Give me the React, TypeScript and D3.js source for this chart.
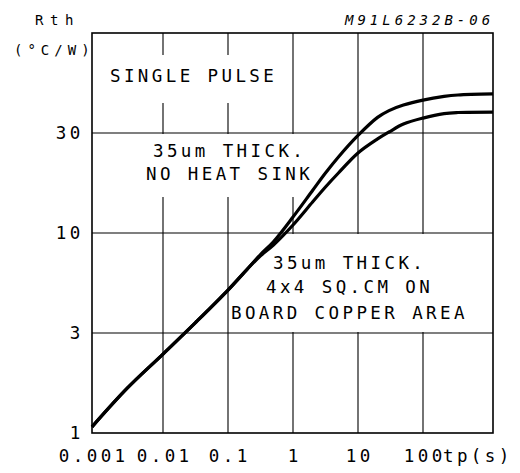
import React from "react";
import * as d3 from "d3";

const tp = [0.001, 0.00316, 0.01, 0.0316, 0.1, 0.2, 0.316, 0.5, 1, 2, 3.16, 5, 10, 20, 30, 50, 100, 200, 316, 1000];
const rthNoHeatSink = [1.07, 1.64, 2.38, 3.4, 5.03, 6.5, 7.72, 9.0, 11.92, 15.95, 19.33, 23.05, 29.2, 36.2, 39.3, 42.0, 44.6, 46.6, 47.4, 48.0];
const rthCopper = [1.07, 1.64, 2.38, 3.4, 5.03, 6.5, 7.6, 8.65, 10.92, 14.06, 16.58, 19.33, 24.08, 28.1, 30.36, 33.4, 35.9, 37.9, 38.4, 38.6];

const xTicks = [0.001, 0.01, 0.1, 1, 10, 100];
const xTickLabels = ["0.001", "0.01", "0.1", "1", "10", "100"];
const yTicks = [1, 3, 10, 30];
const yTickLabels = ["1", "3", "10", "30"];

const FONT = "'DejaVu Sans Mono', monospace";

export default function App() {
  const x = d3
    .scaleLog()
    .domain([1e-3, 1e-2, 1e-1, 1, 10, 100, 1000])
    .range([92, 163, 228, 293, 358, 423, 493]);
  const y = d3.scaleLog().domain([1, 3, 10, 30, 100]).range([433, 333, 233, 133, 33]);

  const line = d3
    .line<number>()
    .x((_, i) => x(tp[i]))
    .y((d) => y(d))
    .curve(d3.curveCatmullRom.alpha(0.5));

  const [x0, x1] = [x(0.001), x(1000)];
  const [yb, yt] = [y(1), y(100)];
  const gridX = [0.01, 0.1, 1, 10, 100];
  const gridY = [3, 10, 30];

  const big = { fontFamily: FONT, fontSize: 17.5, letterSpacing: 3.4, fill: "#000" } as const;
  const small = { fontFamily: FONT, fontSize: 14, fill: "#000" } as const;

  return (
    <svg
      width={520}
      height={473}
      style={{ position: "absolute", left: 0, top: 0, background: "#fff" }}
    >
      <rect x={0} y={0} width={520} height={473} fill="#fff" />
      {/* grid */}
      {gridX.map((v) => (
        <line key={"gx" + v} x1={x(v)} x2={x(v)} y1={yt} y2={yb} stroke="#000" strokeWidth={1.1} />
      ))}
      {gridY.map((v) => (
        <line key={"gy" + v} x1={x0} x2={x1} y1={y(v)} y2={y(v)} stroke="#000" strokeWidth={1.1} />
      ))}
      {/* white annotation boxes */}
      <rect x={x0} y={55} width={193} height={48} fill="#fff" />
      <rect x={x0} y={y(30) + 1} width={228} height={63} fill="#fff" />
      <rect x={x(0.1) + 1} y={y(10) + 1} width={x1 - x(0.1) - 1} height={y(3) - y(10) - 2} fill="#fff" />

      {/* annotations */}
      <text x={110} y={82} {...big}>SINGLE PULSE</text>
      <text x={153} y={157} {...big}>35um THICK.</text>
      <text x={146} y={180} {...big}>NO HEAT SINK</text>
      <text x={273} y={269} {...big}>35um THICK.</text>
      <text x={266} y={293} {...big}>4x4 SQ.CM ON</text>
      <text x={231} y={319} {...big}>BOARD COPPER AREA</text>

      {/* curves */}
      <path d={line(rthNoHeatSink) || ""} fill="none" stroke="#000" strokeWidth={3.2} strokeLinejoin="round" />
      <path d={line(rthCopper) || ""} fill="none" stroke="#000" strokeWidth={3.2} strokeLinejoin="round" />

      {/* frame */}
      <rect x={x0} y={yt} width={x1 - x0} height={yb - yt} fill="none" stroke="#000" strokeWidth={1.6} />

      {/* y tick labels */}
      {yTicks.map((v, i) => (
        <text
          key={"yl" + v}
          x={82 + 1.7}
          y={y(v)}
          dy="0.36em"
          textAnchor="end"
          {...big}
        >
          {yTickLabels[i]}
        </text>
      ))}
      {/* x tick labels */}
      {xTicks.map((v, i) => (
        <text
          key={"xl" + v}
          x={x(v) + 1.7}
          y={462}
          textAnchor="middle"
          {...big}
        >
          {xTickLabels[i]}
        </text>
      ))}
      <text x={443} y={462} {...big}>tp(s)</text>

      {/* axis title */}
      <text x={35} y={25} {...small} letterSpacing={6.6}>Rth</text>
      <text x={14} y={55} {...small} letterSpacing={5}>(°C/W)</text>
      <text x={345} y={25} {...small} letterSpacing={4} fontStyle="italic">M91L6232B-06</text>
    </svg>
  );
}
